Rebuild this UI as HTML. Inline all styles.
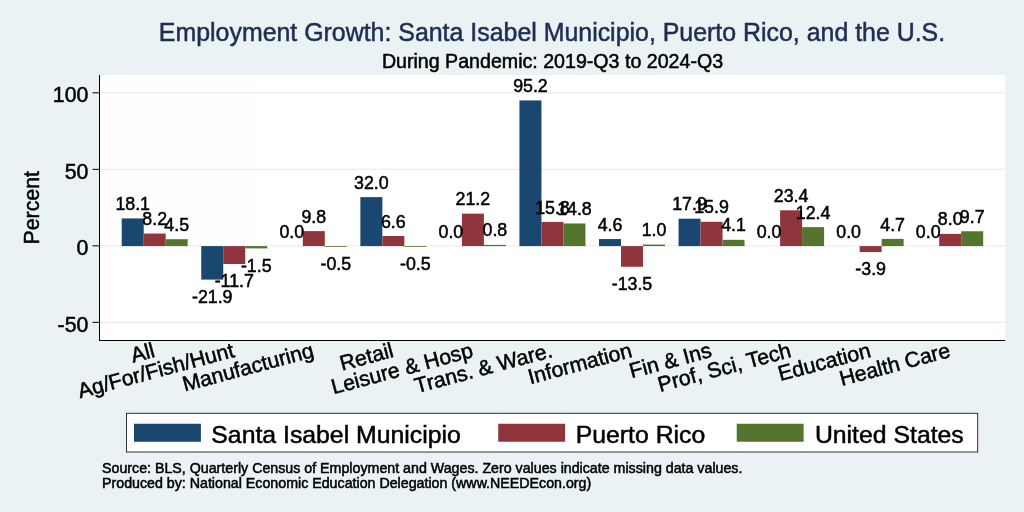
<!DOCTYPE html>
<html lang="en"><head><meta charset="utf-8"><title>Employment Growth</title>
<style>html,body{margin:0;padding:0;background:#eaf2f3;}body{width:1024px;height:512px;overflow:hidden;}svg{display:block;will-change:transform;opacity:0.999;}text{font-family:"Liberation Sans",Arial,Helvetica,sans-serif;fill:#000;stroke:#000;stroke-width:0.5px;}</style></head><body>
<svg width="1024" height="512" viewBox="0 0 1024 512">
<rect x="0" y="0" width="1024" height="512" fill="#eaf2f3"/>
<rect x="100.00" y="75.00" width="905.25" height="265.50" fill="#ffffff"/>
<line x1="100.00" y1="92.85" x2="1005.25" y2="92.85" stroke="#e8f0f2" stroke-width="1.3"/>
<line x1="100.00" y1="169.35" x2="1005.25" y2="169.35" stroke="#e8f0f2" stroke-width="1.3"/>
<line x1="100.00" y1="245.85" x2="1005.25" y2="245.85" stroke="#e8f0f2" stroke-width="1.3"/>
<line x1="100.00" y1="322.35" x2="1005.25" y2="322.35" stroke="#e8f0f2" stroke-width="1.3"/>
<rect x="121.70" y="218.41" width="22.00" height="27.69" fill="#1a476f"/>
<rect x="143.70" y="233.55" width="22.00" height="12.55" fill="#90353b"/>
<rect x="165.70" y="239.22" width="22.00" height="6.88" fill="#55752f"/>
<rect x="201.25" y="246.10" width="22.00" height="33.51" fill="#1a476f"/>
<rect x="223.25" y="246.10" width="22.00" height="17.90" fill="#90353b"/>
<rect x="245.25" y="246.10" width="22.00" height="2.29" fill="#55752f"/>
<rect x="302.80" y="231.11" width="22.00" height="14.99" fill="#90353b"/>
<rect x="324.80" y="246.10" width="22.00" height="0.77" fill="#55752f"/>
<rect x="360.35" y="197.14" width="22.00" height="48.96" fill="#1a476f"/>
<rect x="382.35" y="236.00" width="22.00" height="10.10" fill="#90353b"/>
<rect x="404.35" y="246.10" width="22.00" height="0.77" fill="#55752f"/>
<rect x="461.90" y="213.66" width="22.00" height="32.44" fill="#90353b"/>
<rect x="483.90" y="244.88" width="22.00" height="1.22" fill="#55752f"/>
<rect x="519.45" y="100.44" width="22.00" height="145.66" fill="#1a476f"/>
<rect x="541.45" y="221.93" width="22.00" height="24.17" fill="#90353b"/>
<rect x="563.45" y="223.46" width="22.00" height="22.64" fill="#55752f"/>
<rect x="599.00" y="239.06" width="22.00" height="7.04" fill="#1a476f"/>
<rect x="621.00" y="246.10" width="22.00" height="20.66" fill="#90353b"/>
<rect x="643.00" y="244.57" width="22.00" height="1.53" fill="#55752f"/>
<rect x="678.55" y="218.71" width="22.00" height="27.39" fill="#1a476f"/>
<rect x="700.55" y="221.77" width="22.00" height="24.33" fill="#90353b"/>
<rect x="722.55" y="239.83" width="22.00" height="6.27" fill="#55752f"/>
<rect x="780.10" y="210.30" width="22.00" height="35.80" fill="#90353b"/>
<rect x="802.10" y="227.13" width="22.00" height="18.97" fill="#55752f"/>
<rect x="859.65" y="246.10" width="22.00" height="5.97" fill="#90353b"/>
<rect x="881.65" y="238.91" width="22.00" height="7.19" fill="#55752f"/>
<rect x="939.20" y="233.86" width="22.00" height="12.24" fill="#90353b"/>
<rect x="961.20" y="231.26" width="22.00" height="14.84" fill="#55752f"/>
<line x1="99.50" y1="75.00" x2="99.50" y2="341.00" stroke="#000" stroke-width="1"/>
<line x1="99.00" y1="340.50" x2="1005.25" y2="340.50" stroke="#000" stroke-width="1"/>
<line x1="92.50" y1="92.85" x2="99.50" y2="92.85" stroke="#000" stroke-width="1"/>
<text x="88.4" y="102.15" font-size="21.30" text-anchor="end">100</text>
<line x1="92.50" y1="169.35" x2="99.50" y2="169.35" stroke="#000" stroke-width="1"/>
<text x="88.4" y="178.65" font-size="21.30" text-anchor="end">50</text>
<line x1="92.50" y1="245.85" x2="99.50" y2="245.85" stroke="#000" stroke-width="1"/>
<text x="88.4" y="255.15" font-size="21.30" text-anchor="end">0</text>
<line x1="92.50" y1="322.35" x2="99.50" y2="322.35" stroke="#000" stroke-width="1"/>
<text x="88.4" y="331.65" font-size="21.30" text-anchor="end">-50</text>
<text x="132.70" y="210.01" font-size="17.80" text-anchor="middle">18.1</text>
<text x="154.70" y="225.15" font-size="17.80" text-anchor="middle">8.2</text>
<text x="176.70" y="230.81" font-size="17.80" text-anchor="middle">4.5</text>
<text x="212.25" y="302.71" font-size="17.80" text-anchor="middle">-21.9</text>
<text x="234.25" y="287.10" font-size="17.80" text-anchor="middle">-11.7</text>
<text x="256.25" y="271.50" font-size="17.80" text-anchor="middle">-1.5</text>
<text x="291.80" y="237.70" font-size="17.80" text-anchor="middle">0.0</text>
<text x="313.80" y="222.71" font-size="17.80" text-anchor="middle">9.8</text>
<text x="335.80" y="269.96" font-size="17.80" text-anchor="middle">-0.5</text>
<text x="371.35" y="188.74" font-size="17.80" text-anchor="middle">32.0</text>
<text x="393.35" y="227.60" font-size="17.80" text-anchor="middle">6.6</text>
<text x="415.35" y="269.96" font-size="17.80" text-anchor="middle">-0.5</text>
<text x="450.90" y="237.70" font-size="17.80" text-anchor="middle">0.0</text>
<text x="472.90" y="205.26" font-size="17.80" text-anchor="middle">21.2</text>
<text x="494.90" y="236.48" font-size="17.80" text-anchor="middle">0.8</text>
<text x="530.45" y="92.04" font-size="17.80" text-anchor="middle">95.2</text>
<text x="552.45" y="213.53" font-size="17.80" text-anchor="middle">15.8</text>
<text x="574.45" y="215.06" font-size="17.80" text-anchor="middle">14.8</text>
<text x="610.00" y="230.66" font-size="17.80" text-anchor="middle">4.6</text>
<text x="632.00" y="289.86" font-size="17.80" text-anchor="middle">-13.5</text>
<text x="654.00" y="236.17" font-size="17.80" text-anchor="middle">1.0</text>
<text x="689.55" y="210.31" font-size="17.80" text-anchor="middle">17.9</text>
<text x="711.55" y="213.37" font-size="17.80" text-anchor="middle">15.9</text>
<text x="733.55" y="231.43" font-size="17.80" text-anchor="middle">4.1</text>
<text x="769.10" y="237.70" font-size="17.80" text-anchor="middle">0.0</text>
<text x="791.10" y="201.90" font-size="17.80" text-anchor="middle">23.4</text>
<text x="813.10" y="218.73" font-size="17.80" text-anchor="middle">12.4</text>
<text x="848.65" y="237.70" font-size="17.80" text-anchor="middle">0.0</text>
<text x="870.65" y="275.17" font-size="17.80" text-anchor="middle">-3.9</text>
<text x="892.65" y="230.51" font-size="17.80" text-anchor="middle">4.7</text>
<text x="928.20" y="237.70" font-size="17.80" text-anchor="middle">0.0</text>
<text x="950.20" y="225.46" font-size="17.80" text-anchor="middle">8.0</text>
<text x="972.20" y="222.86" font-size="17.80" text-anchor="middle">9.7</text>
<text transform="translate(155.90,356.60) rotate(-15)" x="0" y="0" font-size="21.30" text-anchor="end">All</text>
<text transform="translate(235.45,356.60) rotate(-15)" x="0" y="0" font-size="21.30" text-anchor="end">Ag/For/Fish/Hunt</text>
<text transform="translate(315.00,356.60) rotate(-15)" x="0" y="0" font-size="21.30" text-anchor="end">Manufacturing</text>
<text transform="translate(394.55,356.60) rotate(-15)" x="0" y="0" font-size="21.30" text-anchor="end">Retail</text>
<text transform="translate(474.10,356.60) rotate(-15)" x="0" y="0" font-size="21.30" text-anchor="end">Leisure &amp; Hosp</text>
<text transform="translate(553.65,356.60) rotate(-15)" x="0" y="0" font-size="21.30" text-anchor="end">Trans. &amp; Ware.</text>
<text transform="translate(633.20,356.60) rotate(-15)" x="0" y="0" font-size="21.30" text-anchor="end">Information</text>
<text transform="translate(712.75,356.60) rotate(-15)" x="0" y="0" font-size="21.30" text-anchor="end">Fin &amp; Ins</text>
<text transform="translate(792.30,356.60) rotate(-15)" x="0" y="0" font-size="21.30" text-anchor="end">Prof, Sci, Tech</text>
<text transform="translate(871.85,356.60) rotate(-15)" x="0" y="0" font-size="21.30" text-anchor="end">Education</text>
<text transform="translate(951.40,356.60) rotate(-15)" x="0" y="0" font-size="21.30" text-anchor="end">Health Care</text>
<text transform="translate(39.2,207.8) rotate(-90)" font-size="21.30" text-anchor="middle">Percent</text>
<text x="552" y="41" font-size="24.91" text-anchor="middle" style="fill:#1e2d53;stroke:#1e2d53">Employment Growth: Santa Isabel Municipio, Puerto Rico, and the U.S.</text>
<text x="552.5" y="68" font-size="19.62" text-anchor="middle">During Pandemic: 2019-Q3 to 2024-Q3</text>
<rect x="126.5" y="413.25" width="851.2" height="38.75" fill="#fff" stroke="#111" stroke-width="0.85"/>
<rect x="134.00" y="423.75" width="66.9" height="18" fill="#1a476f"/>
<text x="211.30" y="442.75" font-size="24.8">Santa Isabel Municipio</text>
<rect x="498.25" y="423.75" width="66.9" height="18" fill="#90353b"/>
<text x="575.70" y="442.75" font-size="24.8">Puerto Rico</text>
<rect x="736.75" y="423.75" width="66.9" height="18" fill="#55752f"/>
<text x="814.90" y="442.75" font-size="24.8">United States</text>
<text x="102" y="473.25" font-size="14.23">Source: BLS, Quarterly Census of Employment and Wages. Zero values indicate missing data values.</text>
<text x="102" y="487.75" font-size="14.23">Produced by: National Economic Education Delegation (www.NEEDEcon.org)</text>
</svg></body></html>
